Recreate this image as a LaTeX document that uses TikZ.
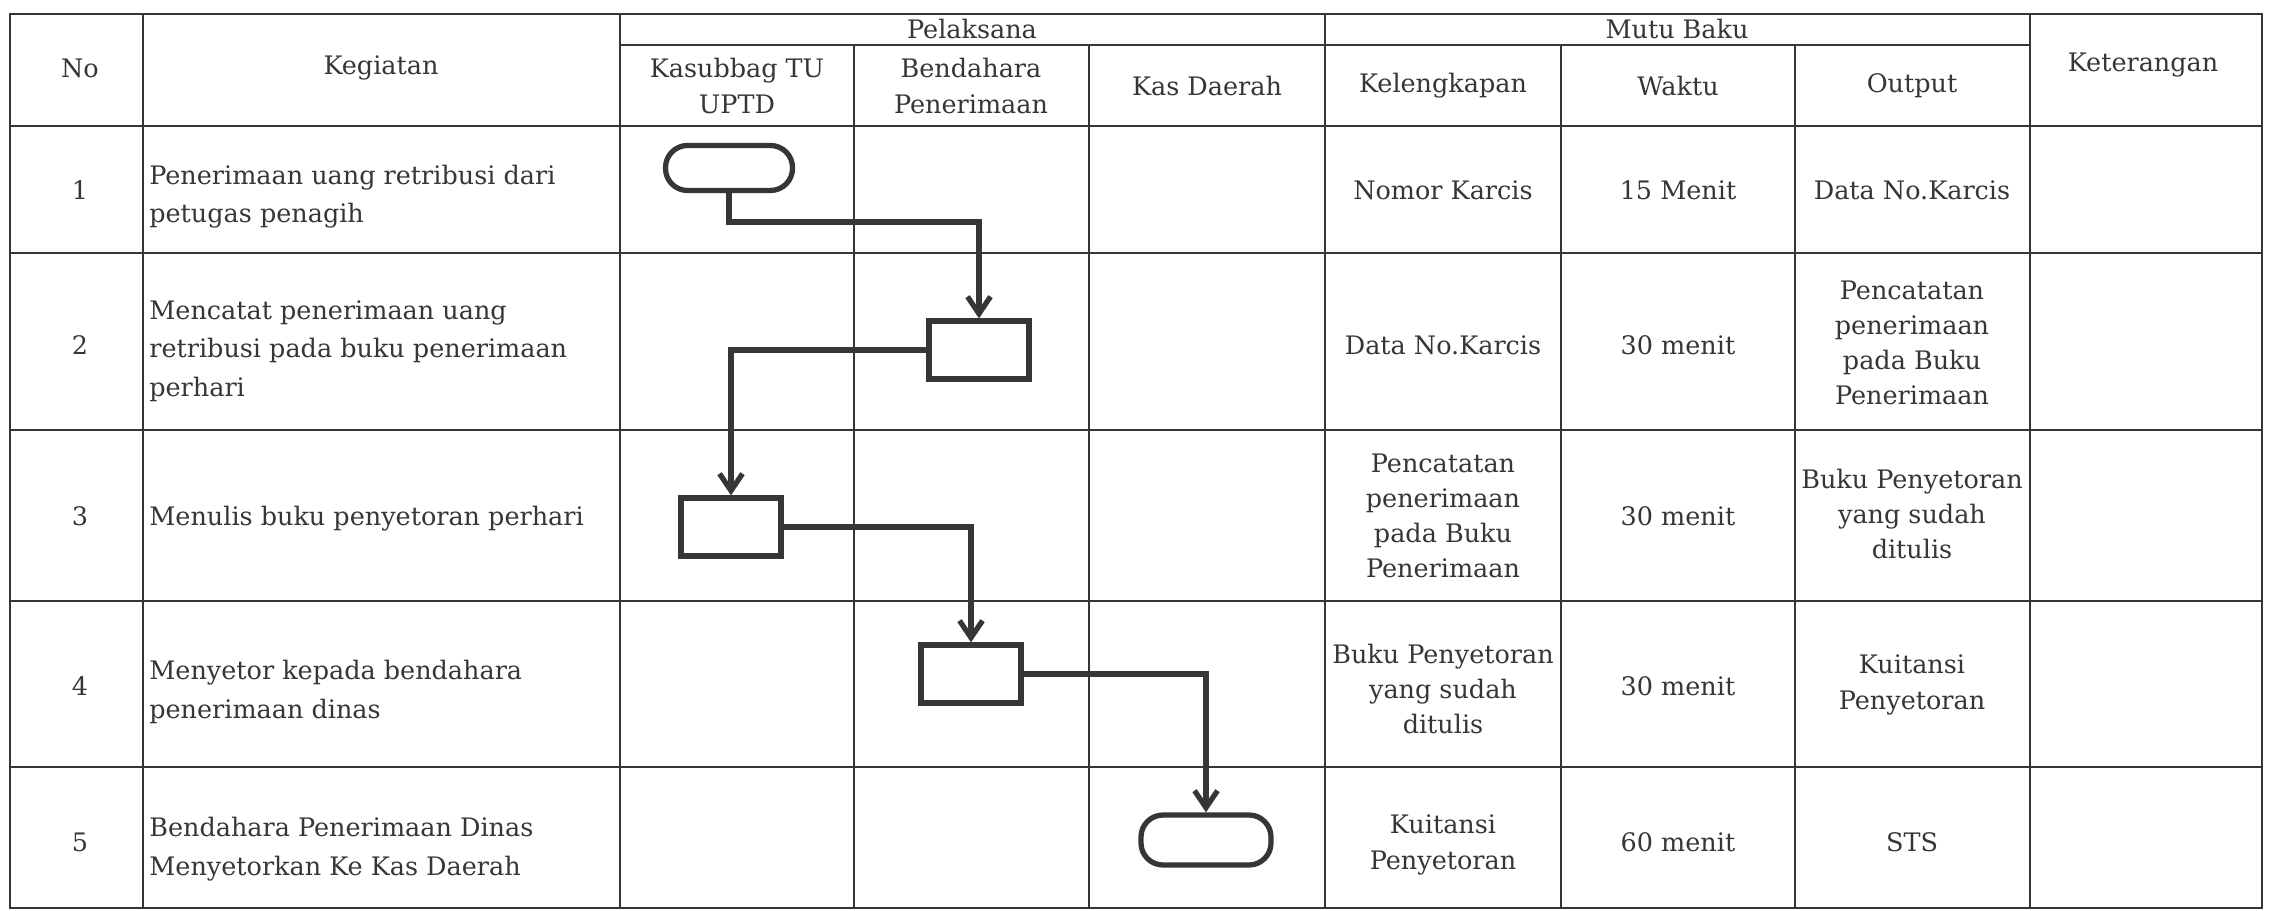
\documentclass[tikz,border=0pt]{standalone}
\usepackage{fontspec}
\setmainfont{DejaVu Serif}
\usepackage{tikz}
\usetikzlibrary{positioning}
\usetikzlibrary{arrows.meta}
\definecolor{ink}{HTML}{363636}

\begin{document}
\begin{tikzpicture}[x=0.2mm,y=-0.2mm,>={Straight Barb[length=3.4mm,width=4.6mm]},
	font=\fontsize{14.5}{20}\selectfont,
	grid line/.style={draw=ink,line width=1.4pt},
	cell/.style={text=ink,align=center,inner sep=0pt},
	act/.style={text=ink,align=left,inner sep=0pt,anchor=west,font=\fontsize{14.5}{21.8}\selectfont},
	flow box/.style={draw=ink,line width=3pt,minimum width=20mm,minimum height=11.6mm},
	end node/.style={draw=ink,line width=3pt,rounded corners=4.4mm,minimum width=25.4mm,minimum height=9mm},
	flow/.style={->,draw=ink,line width=3pt}]
	
	\useasboundingbox (0,0) rectangle (2270,911);
	
	\draw[grid line] (10,14) rectangle (2262,908);
	\draw[grid line] (620,45) -- (2030,45);
	\draw[grid line] (10,126) -- (2262,126);
	\draw[grid line] (10,253) -- (2262,253);
	\draw[grid line] (10,430) -- (2262,430);
	\draw[grid line] (10,601) -- (2262,601);
	\draw[grid line] (10,767) -- (2262,767);
	\draw[grid line] (143,14) -- (143,908);
	\draw[grid line] (620,14) -- (620,908);
	\draw[grid line] (1325,14) -- (1325,908);
	\draw[grid line] (2030,14) -- (2030,908);
	\draw[grid line] (854,45) -- (854,908);
	\draw[grid line] (1089,45) -- (1089,908);
	\draw[grid line] (1561,45) -- (1561,908);
	\draw[grid line] (1795,45) -- (1795,908);
	
	\node[cell] (no) at (80,68) {No};
	\node[cell] (kegiatan) at (381,68) {Kegiatan};
	\node[cell] (pelaksana) at (972,29) {Pelaksana};
	\node[cell] (mutubaku) at (1677,29) {Mutu Baku};
	\node[cell] (keterangan) at (2143,65) {Keterangan};
	\node[cell] (kasubbag) at (737,86) {Kasubbag TU\\UPTD};
	\node[cell] (bendahara) at (971,86) {Bendahara\\Penerimaan};
	\node[cell] (kasdaerah) at (1207,86) {Kas Daerah};
	\node[cell] (kelengkapan) at (1443,86) {Kelengkapan};
	\node[cell] (waktu) at (1678,86) {Waktu};
	\node[cell] (output) at (1912,86) {Output};
	
	\node[cell] (n1) at (80,190) {1};
	\node[act] (keg1) at (149,197) {Penerimaan uang retribusi dari\\petugas penagih};
	\node[cell] (kel1) at (1443,190) {Nomor Karcis};
	\node[cell] (wkt1) at (1678,190) {15 Menit};
	\node[cell] (out1) at (1912,190) {Data No.Karcis};
	
	\node[cell] (n2) at (80,345) {2};
	\node[act] (keg2) at (149,351) {Mencatat penerimaan uang\\retribusi pada buku penerimaan\\perhari};
	\node[cell] (kel2) at (1443,345) {Data No.Karcis};
	\node[cell] (wkt2) at (1678,345) {30 menit};
	\node[cell] (out2) at (1912,343) {Pencatatan\\penerimaan\\pada Buku\\Penerimaan};
	
	\node[cell] (n3) at (80,516) {3};
	\node[act] (keg3) at (149,519) {Menulis buku penyetoran perhari};
	\node[cell] (kel3) at (1443,516) {Pencatatan\\penerimaan\\pada Buku\\Penerimaan};
	\node[cell] (wkt3) at (1678,516) {30 menit};
	\node[cell] (out3) at (1912,514) {Buku Penyetoran\\yang sudah\\ditulis};
	
	\node[cell] (n4) at (80,686) {4};
	\node[act] (keg4) at (149,692) {Menyetor kepada bendahara\\penerimaan dinas};
	\node[cell] (kel4) at (1443,689) {Buku Penyetoran\\yang sudah\\ditulis};
	\node[cell] (wkt4) at (1678,686) {30 menit};
	\node[cell] (out4) at (1912,685) {Kuitansi\\Penyetoran};
	
	\node[cell] (n5) at (80,842) {5};
	\node[act] (keg5) at (149,849) {Bendahara Penerimaan Dinas\\Menyetorkan Ke Kas Daerah};
	\node[cell] (kel5) at (1443,845) {Kuitansi\\Penyetoran};
	\node[cell] (wkt5) at (1678,842) {60 menit};
	\node[cell] (out5) at (1912,842) {STS};
	
	\node[end node] (mulai) at (729,168) {};
	\node[flow box] (catat) at (979,350) {};
	\node[flow box] (tulis) at (731,527) {};
	\node[flow box] (setor) at (971,674) {};
	\node[end node,minimum width=26mm,minimum height=10mm] (selesai) at (1206,840) {};
	
	\draw[flow] (mulai.south) -- ++(0,29) -| (catat.north);
	\draw[flow] (catat.west) -| (tulis.north);
	\draw[flow] (tulis.east) -| (setor.north);
	\draw[flow] (setor.east) -| (selesai.north);
\end{tikzpicture}
\end{document}
